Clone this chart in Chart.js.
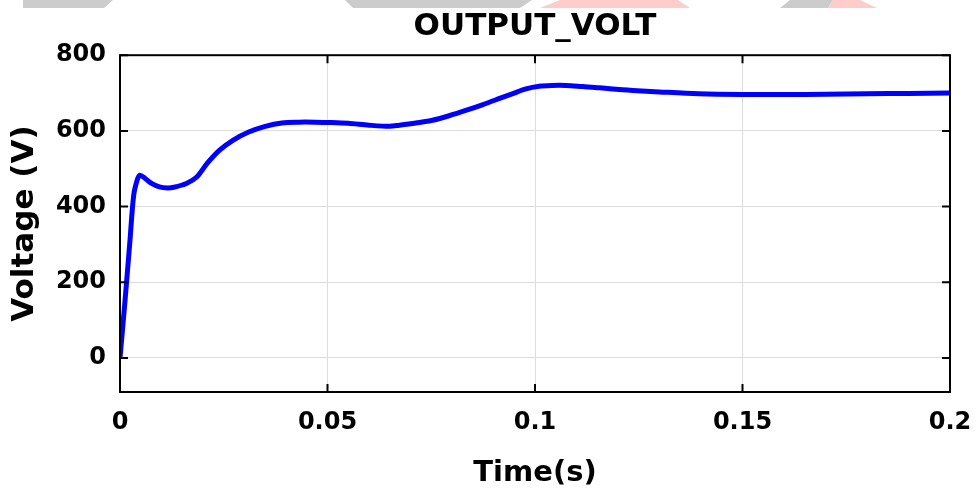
<!DOCTYPE html>
<html>
<head>
<meta charset="utf-8">
<script src="https://cdn.jsdelivr.net/npm/chart.js@4/dist/chart.umd.min.js"></script>
<style>
html,body{margin:0;padding:0;background:#fff;}
#wrap{width:979px;height:488px;position:relative;}
</style>
</head>
<body>
<div id="wrap"><canvas id="c"></canvas></div>
<script>
const timeValues = [0, 0.0012, 0.0024, 0.0033, 0.0042, 0.0048, 0.006, 0.0075, 0.0095, 0.0115, 0.013, 0.016, 0.0185, 0.021, 0.024, 0.0272, 0.031, 0.035, 0.039, 0.043, 0.047, 0.051, 0.055, 0.06, 0.065, 0.0673, 0.0713, 0.0753, 0.0793, 0.0833, 0.0873, 0.0913, 0.095, 0.0978, 0.101, 0.104, 0.1075, 0.1115, 0.1155, 0.1195, 0.1236, 0.13, 0.1394, 0.15, 0.16, 0.17, 0.18, 0.19, 0.2];
const voltValues = [0, 150, 310, 430, 472, 483, 475, 462, 452, 449, 451, 461, 478, 514, 549, 575, 597, 612, 621, 623, 623, 622, 620, 615, 612, 615, 621, 628, 640, 654, 669, 685, 700, 711, 718, 720, 720, 717, 714, 710, 707, 703, 698, 696, 696, 697, 698, 699, 700];
const yTickValues = [0, 200, 400, 600, 800];
const xTickValues = [0, 0.05, 0.1, 0.15, 0.2];
const chartTitle = 'OUTPUT_VOLT';
const xTitle = 'Time(s)';
const yTitle = 'Voltage (V)';

const points = timeValues.map((t, i) => ({x: t, y: voltValues[i]}));

const framePlugin = {
  id: 'frame',
  afterDraw(chart) {
    const {ctx, chartArea: a, scales} = chart;
    ctx.save();
    ctx.strokeStyle = '#000';
    ctx.lineWidth = 2;
    ctx.strokeRect(a.left, a.top, a.right - a.left, a.bottom - a.top);
    const L = 8;
    ctx.beginPath();
    xTickValues.forEach(v => {
      const px = scales.x.getPixelForValue(v);
      ctx.moveTo(px, a.bottom); ctx.lineTo(px, a.bottom - L);
      ctx.moveTo(px, a.top); ctx.lineTo(px, a.top + L);
    });
    yTickValues.forEach(v => {
      const py = scales.y.getPixelForValue(v);
      ctx.moveTo(a.left, py); ctx.lineTo(a.left + L, py);
      ctx.moveTo(a.right, py); ctx.lineTo(a.right - L, py);
    });
    ctx.stroke();
    // faint watermark strip at the top
    const shapes = [
      ['#cccccc', [[23,0],[113,0],[104,8],[23,8]]],
      ['#cccccc', [[345,0],[532,0],[520,8],[353,8]]],
      ['#ffcccc', [[560,0],[678,0],[690,8],[540,8]]],
      ['#cccccc', [[790,0],[833,0],[828,8],[780,8]]],
      ['#ffcccc', [[833,0],[860,0],[877,8],[828,8]]]
    ];
    shapes.forEach(([col, pts]) => {
      ctx.fillStyle = col;
      ctx.beginPath();
      pts.forEach((p, i) => i ? ctx.lineTo(p[0], p[1]) : ctx.moveTo(p[0], p[1]));
      ctx.closePath();
      ctx.fill();
    });
    ctx.restore();
  }
};

const boldFont = (size) => ({family: '"DejaVu Sans", sans-serif', weight: 'bold', size: size});

new Chart(document.getElementById('c'), {
  type: 'line',
  data: {
    datasets: [{
      data: points,
      borderColor: '#0000ff',
      borderWidth: 5,
      pointRadius: 0,
      tension: 0.3,
      fill: false
    }]
  },
  options: {
    responsive: true,
    maintainAspectRatio: false,
    animation: false,
    layout: {padding: {left: 0, right: 29, top: 0, bottom: 0}},
    plugins: {
      legend: {display: false},
      tooltip: {enabled: false},
      title: {
        display: true,
        fullSize: false,
        text: chartTitle,
        color: '#000',
        font: boldFont(31),
        padding: {top: 8, bottom: 10}
      }
    },
    scales: {
      x: {
        type: 'linear',
        min: 0,
        max: 0.2,
        afterBuildTicks: (s) => { s.ticks = xTickValues.map(v => ({value: v})); },
        afterFit: (s) => { s.height = 96; s.paddingLeft = 0; s.paddingRight = 0; },
        ticks: {color: '#000', font: boldFont(24), padding: 16, maxRotation: 0,
          callback: (v) => String(v)},
        grid: {color: '#dddddd', lineWidth: 1, drawTicks: false},
        border: {display: false},
        title: {display: true, text: xTitle, color: '#000', font: boldFont(29), padding: {top: 0, bottom: -3}}
      },
      y: {
        type: 'linear',
        min: -90,
        max: 800,
        afterBuildTicks: (s) => { s.ticks = yTickValues.map(v => ({value: v})); },
        afterFit: (s) => { s.width = 120; },
        ticks: {color: '#000', font: boldFont(24), padding: 14},
        grid: {color: '#dddddd', lineWidth: 1, drawTicks: false},
        border: {display: false},
        title: {display: true, text: yTitle, color: '#000', font: boldFont(31), padding: {top: 6, bottom: 0}}
      }
    }
  },
  plugins: [framePlugin]
});
</script>
</body>
</html>
